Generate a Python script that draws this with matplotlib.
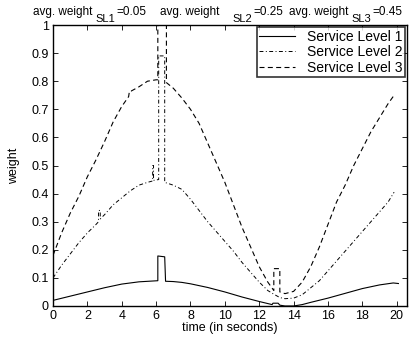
import matplotlib
matplotlib.use("Agg")
import matplotlib.pyplot as plt

plt.rcParams['font.family'] = ['Liberation Sans', 'DejaVu Sans']

# Service Level 1 (solid)
t1 = [0, 1, 2, 3, 4, 5, 6.1, 6.1, 6.5, 6.55, 7, 7.5, 8, 9, 10, 11, 12, 12.75,
      12.8, 13.1, 13.2, 13.5, 14, 14.5, 15, 16, 17, 18, 19, 19.8, 20.1]
w1 = [0.02, 0.035, 0.05, 0.065, 0.078, 0.086, 0.09, 0.178, 0.175, 0.088, 0.087,
      0.084, 0.079, 0.066, 0.05, 0.032, 0.016, 0.005, 0.01, 0.01, 0.003, 0.0,
      0.0, 0.005, 0.013, 0.028, 0.045, 0.062, 0.075, 0.082, 0.08]

# Service Level 2 (dash-dot)
t2 = [0, 0.5, 1, 1.5, 2, 2.5, 2.65, 2.65, 2.75, 2.75, 3, 3.5, 4, 4.5, 5, 5.5,
      5.8, 5.8, 5.85, 5.85, 6.15, 6.15, 6.5, 6.5, 7, 7.5, 8, 8.5, 9, 9.5, 10,
      10.5, 11, 11.5, 12, 12.5, 12.85, 13.2, 13.5, 14, 14.5, 15, 15.5, 16, 16.5,
      17, 17.5, 18, 18.5, 19, 19.5, 19.85]
w2 = [0.10, 0.145, 0.185, 0.225, 0.26, 0.29, 0.30, 0.34, 0.34, 0.31, 0.325,
      0.36, 0.385, 0.41, 0.43, 0.44, 0.445, 0.50, 0.50, 0.447, 0.45, 0.89, 0.89,
      0.44, 0.43, 0.415, 0.38, 0.34, 0.30, 0.265, 0.23, 0.195, 0.155, 0.12,
      0.085, 0.055, 0.042, 0.03, 0.026, 0.028, 0.04, 0.065, 0.09, 0.125, 0.16,
      0.195, 0.23, 0.265, 0.30, 0.335, 0.37, 0.405]

# Service Level 3 (dashed)
t3 = [0, 0.5, 1, 1.5, 2, 2.5, 3, 3.5, 4, 4.4, 4.45, 4.55, 5, 5.5, 6.0, 6.1,
      6.1, 6.6, 6.6, 7, 7.5, 8, 8.5, 9, 9.5, 10, 10.5, 11, 11.5, 12, 12.5,
      12.85, 12.85, 13.2, 13.2, 13.5, 14, 14.5, 15, 15.5, 16, 16.5, 17, 17.5,
      18, 18.5, 19, 19.5, 19.85]
w3 = [0.18, 0.26, 0.33, 0.39, 0.46, 0.52, 0.585, 0.655, 0.71, 0.745, 0.765,
      0.765, 0.78, 0.80, 0.805, 0.805, 1.2, 1.2, 0.795, 0.775, 0.74, 0.70, 0.65,
      0.58, 0.51, 0.44, 0.36, 0.28, 0.21, 0.14, 0.085, 0.055, 0.133, 0.133,
      0.05, 0.044, 0.052, 0.085, 0.14, 0.21, 0.29, 0.37, 0.43, 0.50, 0.56,
      0.62, 0.67, 0.72, 0.75]

labels = ['Service Level 1', 'Service Level 2', 'Service Level 3']
avg_names = ['SL1', 'SL2', 'SL3']
avg_values = ['0.05', '0.25', '0.45']
xticks = list(range(0, 21, 2))
yticks = [0, 0.1, 0.2, 0.3, 0.4, 0.5, 0.6, 0.7, 0.8, 0.9, 1]
yticklabels = ['0', '0.1', '0.2', '0.3', '0.4', '0.5', '0.6', '0.7', '0.8', '0.9', '1']

W, H = 409, 338
fig = plt.figure(figsize=(W/100, H/100), dpi=100)
ax = fig.add_axes([53/W, 1-306/H, 354/W, 281/H])

ax.plot(t1, w1, color='black', lw=0.8, label=labels[0])
ax.plot(t2, w2, color='black', lw=0.7, dashes=(4, 2.5, 1, 2.5), label=labels[1])
ax.plot(t3, w3, color='black', lw=0.8, dashes=(4.5, 3), label=labels[2])

ax.set_xlim(0, 20.6)
ax.set_ylim(0, 1)
ax.set_xticks(xticks)
ax.set_yticks(yticks)
ax.set_yticklabels(yticklabels)
ax.tick_params(direction='in', top=True, right=True, length=3.5, width=0.6,
               labelsize=9, pad=3)
for s in ax.spines.values():
    s.set_linewidth(1.0)

ax.set_xlabel('time (in seconds)', fontsize=9, labelpad=0)
ax.set_ylabel('weight', fontsize=9, labelpad=8)

# title in pieces: MATLAB style subscripts (nearly full size)
main_x = [33, 160, 289]
sub_x = [95, 232, 351]
eq_x = [116, 253, 372]
for i in range(3):
    fig.text(main_x[i]/W, 1-15/H, 'avg. weight', fontsize=8.5, ha='left', va='baseline')
    fig.text(sub_x[i]/W, 1-21.5/H, avg_names[i], fontsize=8, ha='left', va='baseline')
    fig.text(eq_x[i]/W, 1-15/H, '=' + avg_values[i], fontsize=8.5, ha='left', va='baseline')

leg = ax.legend(loc='upper right', fontsize=10, frameon=True, fancybox=False,
                borderaxespad=0.15, handlelength=2.6, labelspacing=0.1,
                borderpad=0.2, handletextpad=0.8)
leg.get_frame().set_edgecolor('black')
leg.get_frame().set_linewidth(1.2)

fig.savefig('out.png', dpi=100)
